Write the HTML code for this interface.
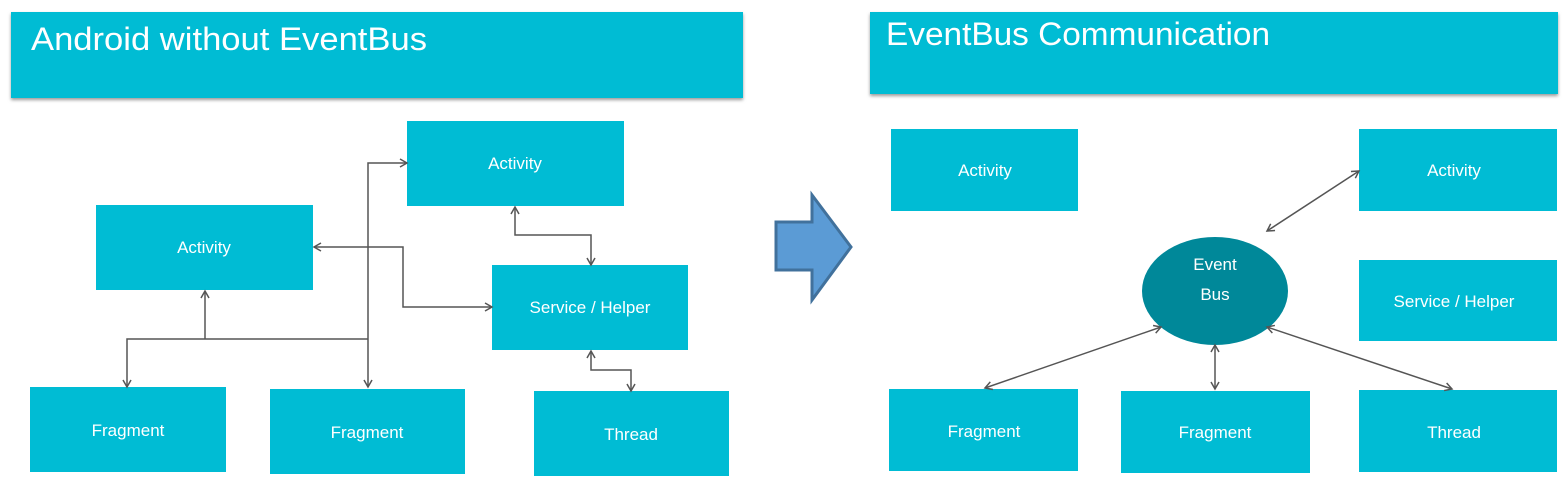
<!DOCTYPE html>
<html><head><style>
body{margin:0;width:1566px;height:483px;background:#fff;overflow:hidden;font-family:"Liberation Sans",sans-serif}
svg{position:absolute;left:0;top:0}
</style></head><body>
<svg width="1566" height="483" viewBox="0 0 1566 483">
<defs>
<marker id="a" markerWidth="10" markerHeight="10" refX="8" refY="5" orient="auto-start-reverse" markerUnits="userSpaceOnUse">
<path d="M1,1 L8,5 L1,9" fill="none" stroke="#555" stroke-width="1.5"/></marker>
<filter id="sh"><feDropShadow dx="0" dy="2" stdDeviation="1.5" flood-color="#999"/></filter>
</defs>
<g fill="#00bcd4">
<rect x="11" y="12" width="732" height="86" filter="url(#sh)"/>
<rect x="870" y="12" width="688" height="82" filter="url(#sh)"/>
<rect x="407" y="121" width="217" height="85"/>
<rect x="96" y="205" width="217" height="85"/>
<rect x="492" y="265" width="196" height="85"/>
<rect x="30" y="387" width="196" height="85"/>
<rect x="270" y="389" width="195" height="85"/>
<rect x="534" y="391" width="195" height="85"/>
<rect x="891" y="129" width="187" height="82"/>
<rect x="1359" y="129" width="198" height="82"/>
<rect x="1359" y="260" width="198" height="81"/>
<rect x="889" y="389" width="189" height="82"/>
<rect x="1121" y="391" width="189" height="82"/>
<rect x="1359" y="390" width="198" height="82"/>
</g>
<ellipse cx="1215" cy="291" rx="73" ry="54" fill="#008899"/>
<path d="M776,222 L812,222 L812,195 L851,247 L812,300 L812,270 L776,270 Z" fill="#5b9bd5" stroke="#41719c" stroke-width="3"/>
<g fill="none" stroke="#555" stroke-width="1.5">
<path d="M368,387 L368,163 L407,163" marker-start="url(#a)" marker-end="url(#a)"/>
<path d="M127,387 L127,339 L368,339"  marker-start="url(#a)"/>
<path d="M205,291 L205,339" marker-start="url(#a)"/>
<path d="M314,247 L403,247 L403,307 L492,307" marker-start="url(#a)" marker-end="url(#a)"/>
<path d="M515,207 L515,235 L591,235 L591,265" marker-start="url(#a)" marker-end="url(#a)"/>
<path d="M591,351 L591,370 L631,370 L631,391" marker-start="url(#a)" marker-end="url(#a)"/>
<path d="M1267,231 L1359,171" marker-start="url(#a)" marker-end="url(#a)"/>
<path d="M1161,327 L985,388" marker-start="url(#a)" marker-end="url(#a)"/>
<path d="M1215,345 L1215,389" marker-start="url(#a)" marker-end="url(#a)"/>
<path d="M1267,327 L1452,389" marker-start="url(#a)" marker-end="url(#a)"/>
</g>
<g fill="#fff" font-family="Liberation Sans, sans-serif">
<text x="31" y="50" font-size="32" textLength="396" lengthAdjust="spacingAndGlyphs">Android without EventBus</text>
<text x="886" y="45" font-size="32" textLength="384" lengthAdjust="spacingAndGlyphs">EventBus Communication</text>
<g font-size="17" text-anchor="middle">
<text x="515" y="169">Activity</text>
<text x="204" y="253">Activity</text>
<text x="590" y="313">Service / Helper</text>
<text x="128" y="436">Fragment</text>
<text x="367" y="438">Fragment</text>
<text x="631" y="440">Thread</text>
<text x="985" y="176">Activity</text>
<text x="1454" y="176">Activity</text>
<text x="1454" y="307">Service / Helper</text>
<text x="984" y="437">Fragment</text>
<text x="1215" y="438">Fragment</text>
<text x="1454" y="438">Thread</text>
<text x="1215" y="270">Event</text>
<text x="1215" y="300">Bus</text>
</g></g>
</svg>
</body></html>
